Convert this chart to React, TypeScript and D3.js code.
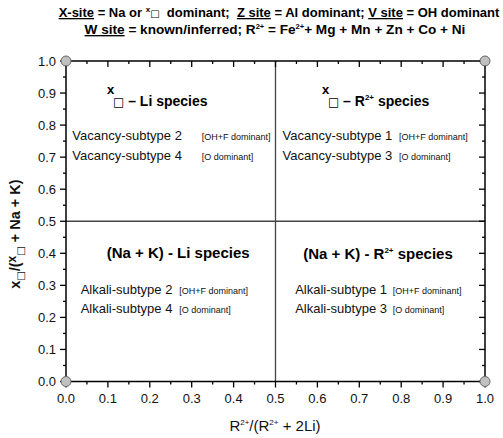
import React from "react";
import * as d3 from "d3";

const W = 503;
const H = 438;

// axis ticks
const xMajor = [0, 0.1, 0.2, 0.3, 0.4, 0.5, 0.6, 0.7, 0.8, 0.9, 1.0];
const yMajor = [0, 0.1, 0.2, 0.3, 0.4, 0.5, 0.6, 0.7, 0.8, 0.9, 1.0];
const xMinor = [0.05, 0.15, 0.25, 0.35, 0.45, 0.55, 0.65, 0.75, 0.85, 0.95];
const yMinor = [0.05, 0.15, 0.25, 0.35, 0.45, 0.55, 0.65, 0.75, 0.85, 0.95];
const cornerPoints = [
  [0, 0],
  [0, 1],
  [1, 0],
  [1, 1],
];
const dividerX = 0.5;
const dividerY = 0.5;

// quadrant texts
const headings = ["Li species", "R", "(Na + K) - Li species", "(Na + K) - R"];
const subtypeNames = [
  ["Vacancy-subtype 2", "Vacancy-subtype 4"],
  ["Vacancy-subtype 1", "Vacancy-subtype 3"],
  ["Alkali-subtype 2", "Alkali-subtype 4"],
  ["Alkali-subtype 1", "Alkali-subtype 3"],
];
const anionNotes = ["[OH+F dominant]", "[O dominant]"];

// layout (data coordinates) for annotations
const headPos = [
  { x: 0.112, y: 0.86 },
  { x: 0.625, y: 0.86 },
  { x: 0.097, y: 0.385 },
  { x: 0.566, y: 0.382 },
];
const subPos = [
  { x: 0.015, bx: 0.324, y: [0.753, 0.69] },
  { x: 0.517, bx: 0.795, y: [0.753, 0.69] },
  { x: 0.035, bx: 0.27, y: [0.273, 0.214] },
  { x: 0.547, bx: 0.78, y: [0.273, 0.214] },
];

const FONT = "'Liberation Sans', Arial, Helvetica, sans-serif";
const BOX_FONT = "'DejaVu Sans', sans-serif";

export default function App() {
  const m = { left: 66, right: 485, top: 61, bottom: 381.5 };
  const x = d3.scaleLinear().domain([0, 1]).range([m.left, m.right]);
  const y = d3.scaleLinear().domain([0, 1]).range([m.bottom, m.top]);
  const fmt = d3.format(".1f");
  const majorLen = 6;
  const minorLen = 3;
  const axisColor = "#000";

  return (
    <svg
      width={W}
      height={H}
      style={{ position: "absolute", left: 0, top: 0, background: "#fff" }}
      fontFamily={FONT}
    >
      <rect width={W} height={H} fill="#fff" />
      {/* Titles */}
      <text x={279} y={17} textAnchor="middle" fontSize={13} fontWeight="bold" fill="#000">
        <tspan style={{ textDecoration: "underline" }}>X-site</tspan>
        <tspan> = Na or </tspan>
        <tspan dy={-5} fontSize={8}>x</tspan>
        <tspan dy={5} fontWeight="normal" fontSize={10} fontFamily={BOX_FONT}>□</tspan>
        <tspan xmlSpace="preserve">{"  dominant;  "}</tspan>
        <tspan style={{ textDecoration: "underline" }}>Z site</tspan>
        <tspan> = Al dominant; </tspan>
        <tspan style={{ textDecoration: "underline" }}>V site</tspan>
        <tspan> = OH dominant</tspan>
      </text>
      <text x={275} y={34} textAnchor="middle" fontSize={13.6} fontWeight="bold" fill="#000">
        <tspan style={{ textDecoration: "underline" }}>W site</tspan>
        <tspan> = known/inferred; R</tspan>
        <tspan dy={-5} fontSize={7.5}>2+</tspan>
        <tspan dy={5}> = Fe</tspan>
        <tspan dy={-5} fontSize={7.5}>2+</tspan>
        <tspan dy={5}>+ Mg + Mn + Zn + Co + Ni</tspan>
      </text>

      {/* dividers */}
      <line x1={x(dividerX)} x2={x(dividerX)} y1={y(0)} y2={y(1)} stroke="#444" strokeWidth={1.3} />
      <line x1={x(0)} x2={x(1)} y1={y(dividerY)} y2={y(dividerY)} stroke="#444" strokeWidth={1.3} />

      {/* frame */}
      <rect
        x={x(0)}
        y={y(1)}
        width={x(1) - x(0)}
        height={y(0) - y(1)}
        fill="none"
        stroke={axisColor}
        strokeWidth={1.5}
      />

      {/* bottom ticks (outward) and top ticks (inward) */}
      {xMajor.map((t) => (
        <g key={"xm" + t}>
          <line x1={x(t)} x2={x(t)} y1={y(0)} y2={y(0) + majorLen} stroke={axisColor} strokeWidth={1.3} />
          <line x1={x(t)} x2={x(t)} y1={y(1)} y2={y(1) + majorLen} stroke={axisColor} strokeWidth={1.3} />
          <text x={x(t)} y={403} textAnchor="middle" fontSize={13} fill="#111">
            {fmt(t)}
          </text>
        </g>
      ))}
      {xMinor.map((t) => (
        <g key={"xn" + t}>
          <line x1={x(t)} x2={x(t)} y1={y(0)} y2={y(0) + minorLen} stroke={axisColor} strokeWidth={1.3} />
          <line x1={x(t)} x2={x(t)} y1={y(1)} y2={y(1) + minorLen} stroke={axisColor} strokeWidth={1.3} />
        </g>
      ))}
      {yMajor.map((t) => (
        <g key={"ym" + t}>
          <line x1={x(0) - majorLen} x2={x(0)} y1={y(t)} y2={y(t)} stroke={axisColor} strokeWidth={1.3} />
          <line x1={x(1) - majorLen} x2={x(1)} y1={y(t)} y2={y(t)} stroke={axisColor} strokeWidth={1.3} />
          <text x={56} y={y(t) + 4.5} textAnchor="end" fontSize={13} fill="#111">
            {fmt(t)}
          </text>
        </g>
      ))}
      {yMinor.map((t) => (
        <g key={"yn" + t}>
          <line x1={x(0) - minorLen} x2={x(0)} y1={y(t)} y2={y(t)} stroke={axisColor} strokeWidth={1.3} />
          <line x1={x(1) - minorLen} x2={x(1)} y1={y(t)} y2={y(t)} stroke={axisColor} strokeWidth={1.3} />
        </g>
      ))}

      {/* corner points */}
      {cornerPoints.map(([cx, cy], i) => (
        <circle key={i} cx={x(cx)} cy={y(cy)} r={5} fill="#c0c0c0" stroke="#666" strokeWidth={1} />
      ))}

      {/* Quadrant headings */}
      <text x={x(headPos[0].x) - 6} y={y(headPos[0].y) - 12} fontSize={13} fontWeight="bold" fill="#000">x</text>
      <text x={x(headPos[0].x)} y={y(headPos[0].y)} fontSize={14} fontWeight="bold" fill="#000">
        <tspan fontWeight="normal" fontSize={12} fontFamily={BOX_FONT}>□</tspan>
        <tspan> – {headings[0]}</tspan>
      </text>
      <text x={x(headPos[1].x) - 6} y={y(headPos[1].y) - 12} fontSize={13} fontWeight="bold" fill="#000">x</text>
      <text x={x(headPos[1].x)} y={y(headPos[1].y)} fontSize={14} fontWeight="bold" fill="#000">
        <tspan fontWeight="normal" fontSize={12} fontFamily={BOX_FONT}>□</tspan>
        <tspan> – {headings[1]}</tspan>
        <tspan dy={-6} fontSize={8}>2+</tspan>
        <tspan dy={6}> species</tspan>
      </text>
      <text x={x(headPos[2].x)} y={y(headPos[2].y)} fontSize={15} fontWeight="bold" fill="#000">
        {headings[2]}
      </text>
      <text x={x(headPos[3].x)} y={y(headPos[3].y)} fontSize={15} fontWeight="bold" fill="#000">
        <tspan>{headings[3]}</tspan>
        <tspan dy={-6} fontSize={8}>2+</tspan>
        <tspan dy={6}> species</tspan>
      </text>

      {/* Subtype labels */}
      {subtypeNames.map((names, qi) =>
        names.map((nm, j) => (
          <g key={qi + "-" + j}>
            <text x={x(subPos[qi].x)} y={y(subPos[qi].y[j])} fontSize={13} fill="#111">
              {nm}
            </text>
            <text x={x(subPos[qi].bx)} y={y(subPos[qi].y[j])} fontSize={9} fill="#111">
              {anionNotes[j]}
            </text>
          </g>
        ))
      )}

      {/* x axis label */}
      <text x={275} y={431} textAnchor="middle" fontSize={15} fill="#111">
        <tspan>R</tspan>
        <tspan dy={-6} fontSize={8}>2+</tspan>
        <tspan dy={6}>/(R</tspan>
        <tspan dy={-6} fontSize={8}>2+</tspan>
        <tspan dy={6}> + 2Li)</tspan>
      </text>

      {/* y axis label */}
      <text
        transform={`translate(20, ${y(0.46)}) rotate(-90)`}
        textAnchor="middle"
        fontSize={14.5}
        fontWeight="bold"
        fill="#111"
      >
        <tspan>x</tspan>
        <tspan dy={4} fontSize={10} fontWeight="normal" fontFamily={BOX_FONT}>□</tspan>
        <tspan dy={-4}>/(</tspan>
        <tspan dy={-4} fontSize={12}>x</tspan>
        <tspan dy={8} fontSize={10} fontWeight="normal" fontFamily={BOX_FONT}>□</tspan>
        <tspan dy={-4}> + Na + K)</tspan>
      </text>
    </svg>
  );
}
